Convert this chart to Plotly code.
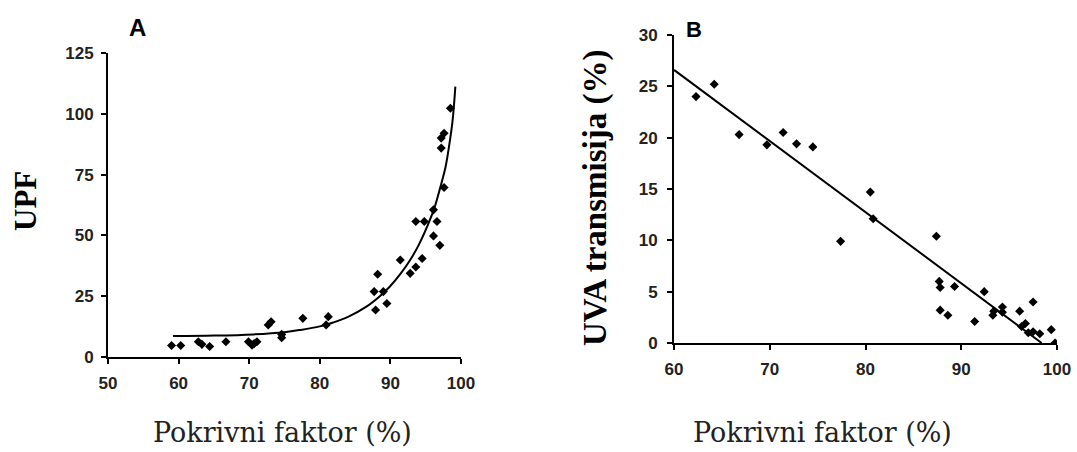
import plotly.graph_objects as go

# ---------------- data ----------------
# Panel A: UPF vs cover factor
a_x = [59.0, 60.3, 62.8, 63.3, 64.4, 66.7, 69.9, 70.4, 70.7, 71.1, 72.7, 73.1, 74.6, 74.6,
       77.6, 80.9, 81.2, 87.7, 87.9, 88.2, 89.0, 89.5, 91.4, 92.8, 93.6, 93.6, 94.5, 94.8,
       96.1, 96.1, 96.6, 97.0, 97.2, 97.2, 97.6, 97.6, 98.5]
a_y = [4.7, 4.7, 6.3, 5.2, 4.3, 6.3, 6.3, 4.9, 5.5, 6.3, 13.2, 14.5, 9.3, 7.9,
       15.9, 13.2, 16.6, 26.9, 19.3, 34.0, 26.9, 22.0, 39.9, 34.4, 37.0, 55.7, 40.5, 55.7,
       60.5, 49.8, 55.7, 45.9, 85.9, 90.0, 92.0, 69.7, 102.3]
a_fit_x = [59.2, 65.0, 70.6, 75.0, 77.2, 80.0, 81.9, 84.0, 86.6, 88.5, 89.9, 91.5, 92.8,
           94.0, 95.2, 96.2, 97.1, 97.8, 98.3, 98.8, 99.2]
a_fit_y = [8.6, 8.8, 9.3, 10.2, 11.1, 12.6, 14.2, 16.5, 20.7, 25.0, 28.9, 34.5, 39.9,
           46.0, 53.6, 61.0, 70.1, 78.0, 86.5, 97.0, 111.2]

# Panel B: UVA transmission vs cover factor
b_x = [62.3, 64.2, 66.8, 69.7, 71.4, 72.8, 74.5, 77.4, 80.5, 80.8, 87.4, 87.7, 87.8, 87.8,
       88.6, 89.3, 91.4, 92.4, 93.3, 93.4, 94.3, 94.3, 96.1, 96.3, 96.7, 97.0, 97.5, 97.5,
       98.2, 99.4, 99.8]
b_y = [24.0, 25.2, 20.3, 19.3, 20.5, 19.4, 19.1, 9.9, 14.7, 12.1, 10.4, 6.0, 5.4, 3.2,
       2.7, 5.5, 2.1, 5.0, 2.7, 3.1, 3.5, 3.0, 3.1, 1.6, 1.9, 1.0, 4.0, 1.1,
       0.9, 1.3, 0.0]
b_fit_x = [60.0, 98.4]
b_fit_y = [26.6, 0.0]

a_xticks = [50, 60, 70, 80, 90, 100]
a_yticks = [0, 25, 50, 75, 100, 125]
b_xticks = [60, 70, 80, 90, 100]
b_yticks = [0, 5, 10, 15, 20, 25, 30]

x_title = "Pokrivni faktor (%)"
a_ytitle = "UPF"
b_ytitle = "UVA transmisija (%)"

# ---------------- figure ----------------
W, H = 1077, 452
def px(x):
    return x / W
def py(y):
    return 1 - y / H

fig = go.Figure()
mk = dict(symbol="diamond", size=7, color="black")
fig.add_trace(go.Scatter(x=a_x, y=a_y, mode="markers", marker=mk, xaxis="x", yaxis="y", showlegend=False))
fig.add_trace(go.Scatter(x=a_fit_x, y=a_fit_y, mode="lines", line=dict(color="black", width=2, shape="spline"),
                         xaxis="x", yaxis="y", showlegend=False))
fig.add_trace(go.Scatter(x=b_x, y=b_y, mode="markers", marker=mk, xaxis="x2", yaxis="y2", showlegend=False))
fig.add_trace(go.Scatter(x=b_fit_x, y=b_fit_y, mode="lines", line=dict(color="black", width=2),
                         xaxis="x2", yaxis="y2", showlegend=False))

tickfont = dict(family="Liberation Sans, Arial", size=17, color="#222222", weight="bold")
axcommon = dict(showgrid=False, zeroline=False, showline=True, linecolor="black", linewidth=2,
                ticks="outside", ticklen=5, tickwidth=2, tickcolor="black", tickfont=tickfont,
                fixedrange=True, automargin=False)

fig.update_layout(
    width=W, height=H,
    margin=dict(l=0, r=0, t=0, b=0, pad=0),
    paper_bgcolor="white", plot_bgcolor="white",
    xaxis=dict(domain=[px(108), px(461)], range=[50, 100], tickvals=a_xticks, anchor="y",
               ticklabelstandoff=5, **axcommon),
    yaxis=dict(domain=[py(357), py(53)], range=[0, 125], tickvals=a_yticks, anchor="x",
               ticklabelstandoff=4, **axcommon),
    xaxis2=dict(domain=[px(674), px(1057)], range=[60, 100], tickvals=b_xticks, anchor="y2",
                ticklabelstandoff=5, **axcommon),
    yaxis2=dict(domain=[py(343), py(35)], range=[0, 30], tickvals=b_yticks, anchor="x2",
                ticklabelstandoff=6, **axcommon),
)

ann = [
    dict(x=px(282), y=py(432), text=x_title, font=dict(family="DejaVu Serif", size=27, color="#222222")),
    dict(x=px(822), y=py(432), text=x_title, font=dict(family="DejaVu Serif", size=27, color="#222222")),
    dict(x=px(25), y=py(201), text=a_ytitle, textangle=-90,
         font=dict(family="Liberation Serif", size=31, color="black", weight="bold")),
    dict(x=px(595), y=py(198), text=b_ytitle, textangle=-90,
         font=dict(family="Liberation Serif", size=33, color="black", weight="bold")),
    dict(x=px(137), y=py(27), text="A", font=dict(family="Liberation Sans", size=24, color="black", weight="bold")),
    dict(x=px(694), y=py(30), text="B", font=dict(family="Liberation Sans", size=22, color="black", weight="bold")),
]
for a in ann:
    a.update(xref="paper", yref="paper", showarrow=False, xanchor="center", yanchor="middle")
fig.update_layout(annotations=ann)

fig.write_html("out.html", config={"displayModeBar": False},
               post_script="document.body.style.margin='0';document.body.style.overflow='hidden';")
